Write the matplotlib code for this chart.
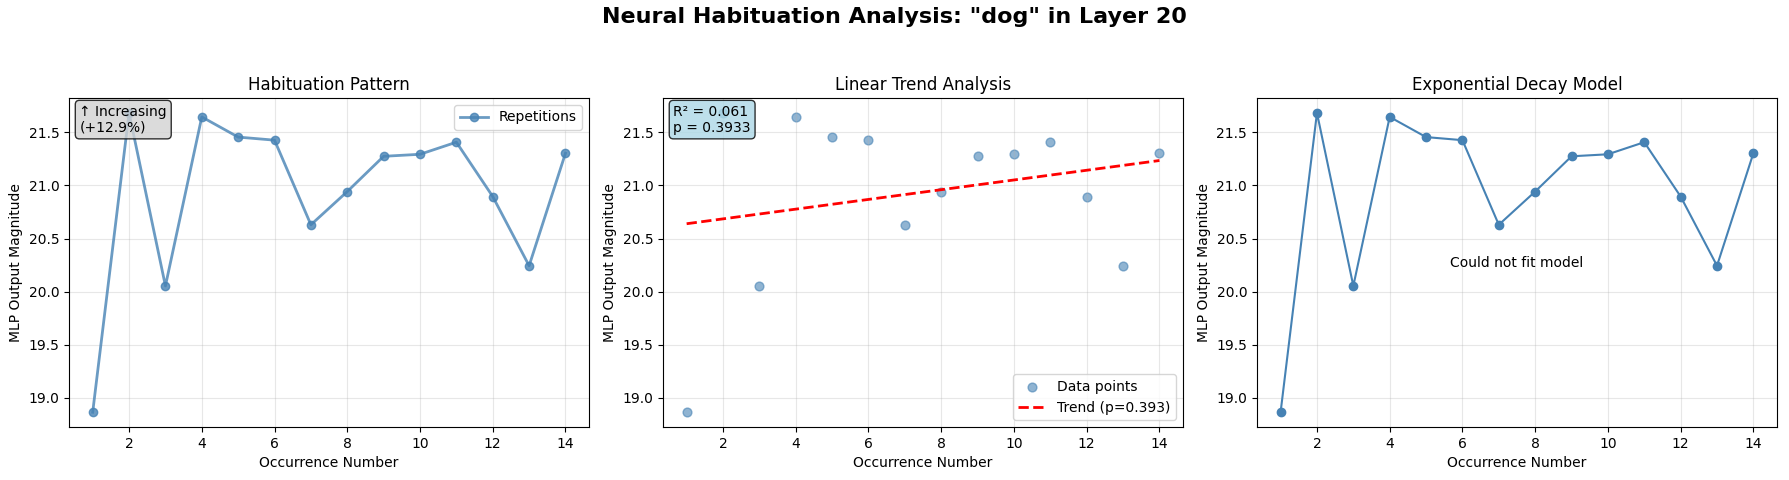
import numpy as np
import matplotlib
matplotlib.use('Agg')
import matplotlib.pyplot as plt

# MLP output magnitude for each occurrence of the word
occurrences = [1, 2, 3, 4, 5, 6, 7, 8, 9, 10, 11, 12, 13, 14]
magnitudes = [18.864, 21.684, 20.054, 21.646, 21.456, 21.427, 20.630,
              20.943, 21.275, 21.294, 21.408, 20.896, 20.244, 21.304]

word = "dog"
layer = 20
r_squared_text = "R\u00b2 = 0.061"
p_value_text = "p = 0.3933"
trend_label = "Trend (p=0.393)"

x = np.array(occurrences)
y = np.array(magnitudes)
pct_change = (y[-1] - y[0]) / y[0] * 100

fig = plt.figure(figsize=(17.89, 4.8), dpi=100)
w, h, b = 0.2907, 0.686, 0.110
lefts = [0.0386, 0.3706, 0.7026]
axes = [fig.add_axes([l, b, w, h]) for l in lefts]

# panel 1: habituation pattern
ax = axes[0]
ax.plot(x, y, 'o-', color='steelblue', linewidth=2, markersize=6, alpha=0.8, label='Repetitions')
ax.set_title('Habituation Pattern', fontsize=12)
ax.set_xlabel('Occurrence Number')
ax.set_ylabel('MLP Output Magnitude')
ax.grid(True, alpha=0.3)
ax.legend(loc='upper right')
ax.text(0.02, 0.98, f"\u2191 Increasing\n(+{pct_change:.1f}%)", transform=ax.transAxes,
        va='top', ha='left', fontsize=10,
        bbox=dict(boxstyle='round', facecolor='lightgray', alpha=0.8))

# panel 2: linear trend
ax = axes[1]
ax.scatter(x, y, color='steelblue', alpha=0.6, s=40, label='Data points')
slope, intercept = np.polyfit(x, y, 1)
ax.plot(x, slope * x + intercept, 'r--', linewidth=2, label=trend_label)
ax.set_title('Linear Trend Analysis', fontsize=12)
ax.set_xlabel('Occurrence Number')
ax.set_ylabel('MLP Output Magnitude')
ax.grid(True, alpha=0.3)
ax.legend(loc='lower right')
ax.text(0.02, 0.98, f"{r_squared_text}\n{p_value_text}", transform=ax.transAxes,
        va='top', ha='left', fontsize=10,
        bbox=dict(boxstyle='round', facecolor='lightblue', alpha=0.8))

# panel 3: exponential decay (fit failed)
ax = axes[2]
ax.plot(x, y, 'o-', color='steelblue', linewidth=1.5, markersize=6)
ax.text(0.5, 0.5, 'Could not fit model', transform=ax.transAxes, ha='center', va='center', fontsize=10)
ax.set_title('Exponential Decay Model', fontsize=12)
ax.set_xlabel('Occurrence Number')
ax.set_ylabel('MLP Output Magnitude')
ax.grid(True, alpha=0.3)

fig.suptitle(f'Neural Habituation Analysis: "{word}" in Layer {layer}',
             fontsize=16, fontweight='bold', y=0.985)

plt.savefig('out.png', dpi=100)
plt.close()
